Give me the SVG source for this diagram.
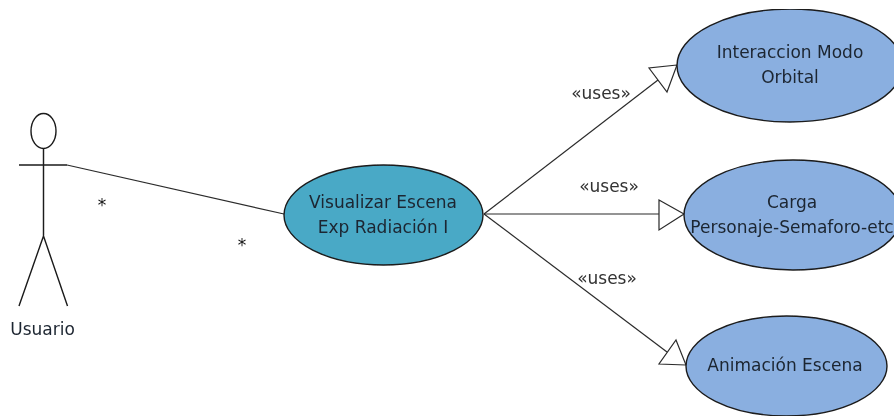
<svg xmlns="http://www.w3.org/2000/svg" width="894" height="416" viewBox="0 0 894 416">
<defs><filter id="soft" x="0" y="0" width="100%" height="100%"><feGaussianBlur stdDeviation="0.4"/></filter></defs>
<style>
.l{fill:none;stroke:#2a2a2a;stroke-width:1.2}
.a{fill:none;stroke:#1a1a1a;stroke-width:1.4}
.h{fill:#fff;stroke:#2a2a2a;stroke-width:1.2}
.u{fill:#4aa9c6;stroke:#1a1a1a;stroke-width:1.4}
.b{fill:#8aafe0;stroke:#1a1a1a;stroke-width:1.4}
text{font-family:"DejaVu Sans","Open Sans",sans-serif;font-size:17px;fill:#1c2530;text-anchor:middle}
.m{fill:#333}
.s{fill:#111;font-size:17px}
</style>
<rect width="894" height="416" fill="#fff"/>
<g filter="url(#soft)">
<g id="connectors">
<path class="l" d="M67 165L284 214"/>
<path class="l" d="M484 214L658 80"/>
<path class="h" d="M677 65L649 68L667 92Z"/>
<path class="l" d="M484 214H659"/>
<path class="h" d="M684 214L659 200V230Z"/>
<path class="l" d="M484 214L667 352"/>
<path class="h" d="M686 365L659 364L676 340Z"/>
<text class="m" x="601" y="99">«uses»</text>
<text class="m" x="609" y="192">«uses»</text>
<text class="m" x="607" y="284">«uses»</text>
<text class="s" x="102" y="211">*</text>
<text class="s" x="242" y="251">*</text>
</g>
<g id="actor-usuario">
<ellipse class="a" cx="43.500" cy="131" rx="12.500" ry="17.500"/>
<path class="a" d="M43.500 148.500V236M19 165H67M43.500 236L19 306M43.500 236L67.500 306"/>
<text x="42.500" y="335">Usuario</text>
</g>
<g id="visualizar-escena">
<ellipse class="u" cx="383.500" cy="215" rx="99.500" ry="50"/>
<text x="383" y="208">Visualizar Escena</text>
<text x="383" y="233">Exp Radiación I</text>
</g>
<g id="interaccion-modo-orbital">
<ellipse class="b" cx="790" cy="65.500" rx="113" ry="56.500"/>
<text x="790" y="58">Interaccion Modo</text>
<text x="790" y="83">Orbital</text>
</g>
<g id="carga">
<ellipse class="b" cx="793" cy="215" rx="109" ry="55"/>
<text x="792" y="208">Carga</text>
<text x="792" y="233">Personaje-Semaforo-etc</text>
</g>
<g id="animacion-escena">
<ellipse class="b" cx="786.500" cy="366" rx="100.500" ry="50"/>
<text x="785" y="371">Animación Escena</text>
</g>
</g>
</svg>
